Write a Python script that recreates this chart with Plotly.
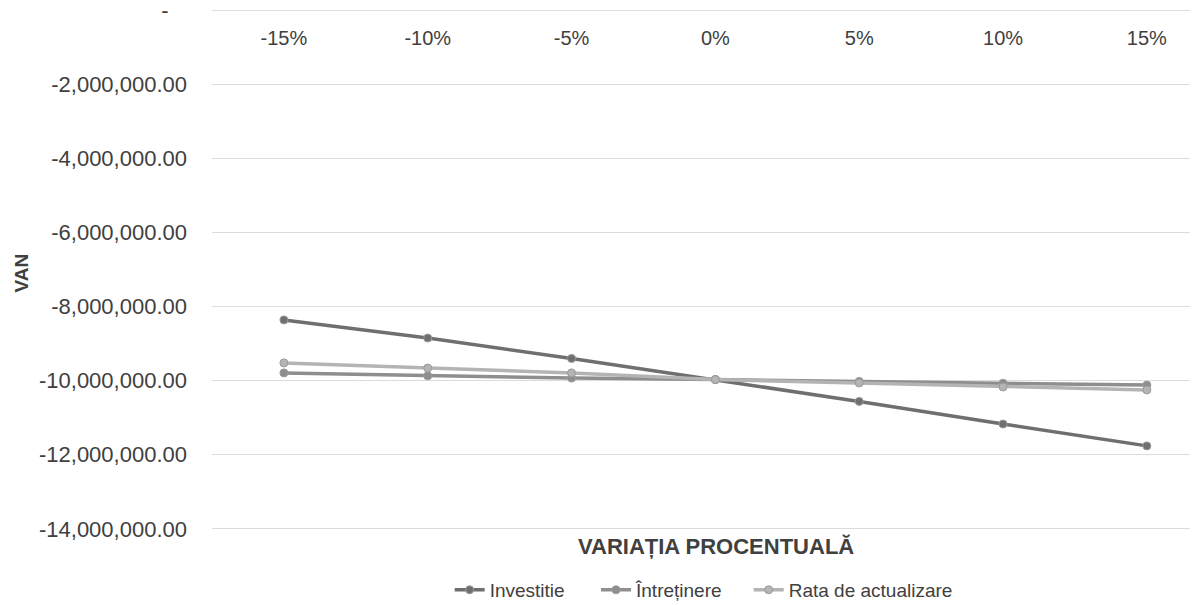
import plotly.graph_objects as go

categories = ["-15%", "-10%", "-5%", "0%", "5%", "10%", "15%"]
investitie = [-8360000, -8850000, -9400000, -9970000, -10560000, -11170000, -11760000]
intretinere = [-9790000, -9870000, -9930000, -9970000, -10020000, -10070000, -10120000]
rata = [-9520000, -9660000, -9790000, -9970000, -10060000, -10170000, -10250000]

y_tickvals = [0, -2000000, -4000000, -6000000, -8000000, -10000000, -12000000, -14000000]
y_ticktext = ["-\u00a0\u00a0\u00a0", "-2,000,000.00", "-4,000,000.00", "-6,000,000.00",
              "-8,000,000.00", "-10,000,000.00", "-12,000,000.00", "-14,000,000.00"]

NB = "\u00a0"
series = [
    ("Investitie", investitie, "#6f6f6f", 5),
    ("Întreținere", intretinere, "#8e8e8e", 4),
    ("Rata de actualizare", rata, "#b4b4b4", 0),
]

fig = go.Figure()
for name, vals, col, pad in series:
    fig.add_trace(go.Scatter(
        x=categories, y=vals, name=name + NB * pad, mode="lines+markers",
        line=dict(color=col, width=3.5),
        marker=dict(color=col, size=8, symbol="circle",
                    line=dict(color="#9a9a9a", width=1)),
    ))

font_family = "Liberation Sans, Arial, sans-serif"
# the page body adds an 8px margin, so the figure is 8px smaller on each axis
fig.update_layout(
    width=1195, height=597,
    margin=dict(l=204, r=13, t=1, b=75, autoexpand=False),
    paper_bgcolor="white", plot_bgcolor="white",
    font=dict(family=font_family, color="#404040"),
    showlegend=True,
    legend=dict(orientation="h", x=0.243, xanchor="left", y=-0.115, yanchor="middle",
                font=dict(size=19, color="#404040"), itemwidth=30),
    xaxis=dict(
        type="category", side="top", range=[-0.5, 6.3],
        anchor="free", position=0.923, automargin=False,
        showgrid=False, showline=False, zeroline=False,
        tickfont=dict(size=20, color="#404040"), ticks="",
    ),
    yaxis=dict(
        range=[-14030000, 30000], tickvals=y_tickvals, ticktext=y_ticktext,
        showgrid=True, gridcolor="#dcdcdc", gridwidth=1, zeroline=False,
        automargin=False, ticklabeloverflow="allow",
        tickfont=dict(size=22, color="#404040"), ticklabelstandoff=24,
    ),
    annotations=[
        dict(
            text="<b>VARIAȚIA PROCENTUALĂ</b>", xref="paper", yref="paper",
            x=0.515, y=-0.032, xanchor="center", yanchor="middle", showarrow=False,
            font=dict(size=22, color="#404040"),
        ),
        dict(
            text="<b>VAN</b>", xref="paper", yref="paper",
            x=-0.195, y=0.493, xanchor="center", yanchor="middle", showarrow=False,
            textangle=-90, font=dict(size=19, color="#404040"),
        ),
    ],
)

fig.write_html("out.html")
